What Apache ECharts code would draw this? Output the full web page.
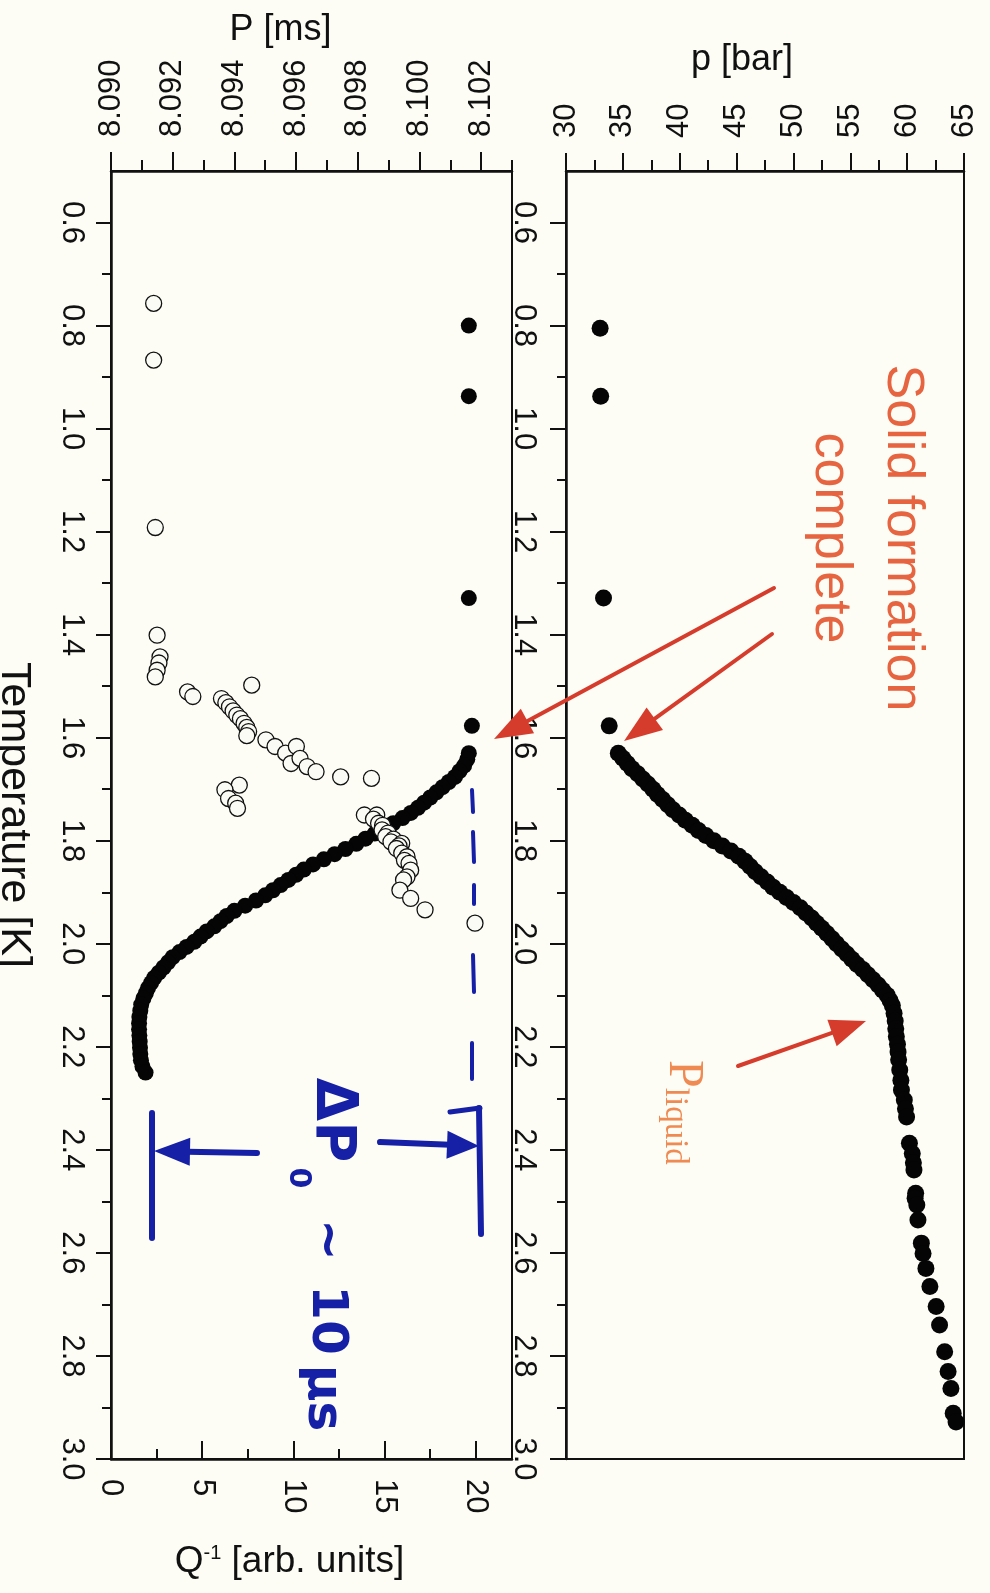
<!DOCTYPE html>
<html><head><meta charset="utf-8">
<script src="https://cdn.jsdelivr.net/npm/echarts@6/dist/echarts.min.js"></script>
<style>html,body{margin:0;padding:0;background:#fdfdf6;}#c{width:990px;height:1593px;}</style>
</head><body><div id="c"></div>
<script>
// ---- tick values ----
const tempMajor = [0.6,0.8,1.0,1.2,1.4,1.6,1.8,2.0,2.2,2.4,2.6,2.8,3.0];
const tempMinor = [0.7,0.9,1.1,1.3,1.5,1.7,1.9,2.1,2.3,2.5,2.7,2.9];
const periodMajor = [8.090,8.092,8.094,8.096,8.098,8.100,8.102];
const periodMinor = [8.091,8.093,8.095,8.097,8.099,8.101,8.103];
const qMajor = [0,5,10,15,20];
const qMinor = [2.5,7.5,12.5,17.5];
const pressMajor = [30,35,40,45,50,55,60,65];
const pressMinor = [32.5,37.5,42.5,47.5,52.5,57.5,62.5];

// ---- period P [ms] (filled circles, left panel) ----
const periodT = [0.800,0.937,1.329,1.577,1.630,1.642,1.654,1.665,1.676,1.686,
 1.696,1.706,1.716,1.726,1.736,1.746,1.756,1.766,1.776,1.786,
 1.796,1.806,1.816,1.826,1.836,1.846,1.856,1.866,1.876,1.886,
 1.896,1.906,1.916,1.926,1.936,1.946,1.956,1.966,1.976,1.986,
 1.996,2.006,2.016,2.026,2.036,2.046,2.056,2.066,2.076,2.086,
 2.096,2.106,2.118,2.130,2.142,2.154,2.166,2.178,2.190,2.202,
 2.214,2.226,2.238,2.250];
const periodP = [8.1016,8.1016,8.1016,8.1017,8.10160,8.10155,8.10145,8.10130,8.10115,8.10095,
 8.10075,8.10055,8.10035,8.10015,8.09995,8.09972,8.09945,8.09915,8.09885,8.09855,
 8.09825,8.09795,8.09760,8.09725,8.09690,8.09655,8.09625,8.09600,8.09575,8.09550,
 8.09525,8.09500,8.09470,8.09435,8.09400,8.09375,8.09355,8.09335,8.09310,8.09290,
 8.09270,8.09245,8.09222,8.09200,8.09185,8.09170,8.09155,8.09140,8.09130,8.09120,
 8.09113,8.09105,8.09098,8.09095,8.09092,8.09091,8.09091,8.09092,8.09093,8.09094,
 8.09095,8.09097,8.09102,8.09112];

// ---- Q^-1 (open circles, left panel) ----
const qT = [0.757,0.867,1.192,1.401,1.443,1.455,1.469,1.482,1.498,1.511,
 1.520,1.524,1.532,1.540,1.548,1.556,1.563,1.572,1.580,1.588,
 1.596,1.604,1.617,1.630,1.617,1.650,1.640,1.656,1.666,1.676,
 1.679,1.692,1.701,1.718,1.727,1.737,1.750,1.750,1.758,1.766,
 1.770,1.779,1.785,1.792,1.797,1.802,1.805,1.810,1.815,1.824,
 1.831,1.838,1.844,1.857,1.870,1.876,1.896,1.912,1.934,1.960];
const qV = [2.34,2.34,2.43,2.53,2.69,2.63,2.53,2.43,7.72,4.20,
 4.49,6.06,6.30,6.50,6.70,6.90,7.10,7.30,7.45,7.55,
 7.45,8.50,9.00,9.58,10.17,9.88,10.37,10.76,11.25,12.60,
 14.29,7.04,6.25,6.45,6.84,6.94,13.90,14.58,14.40,14.68,
 14.90,14.87,15.20,15.07,15.50,15.36,15.95,15.80,15.66,15.95,
 16.24,16.10,16.35,16.44,16.24,16.05,15.85,16.44,17.23,19.97];

// ---- pressure p [bar] (filled circles, right panel) ----
const pressT = [0.805,0.937,1.329,1.577,1.630,1.640,1.650,1.660,1.670,1.680,
 1.690,1.700,1.710,1.720,1.730,1.740,1.750,1.760,1.770,1.780,
 1.790,1.800,1.810,1.820,1.830,1.840,1.850,1.860,1.870,1.880,
 1.890,1.900,1.910,1.920,1.930,1.940,1.950,1.960,1.970,1.980,
 1.990,2.000,2.010,2.020,2.030,2.040,2.050,2.060,2.070,2.080,
 2.090,2.100,2.110,2.120,2.135,2.150,2.165,2.180,2.195,2.210,
 2.225,2.245,2.265,2.284,2.303,2.320,2.336,2.387,2.407,2.425,
 2.439,2.484,2.494,2.507,2.536,2.581,2.601,2.630,2.665,2.704,
 2.740,2.792,2.830,2.863,2.911,2.928];
const pressV = [33.0,33.05,33.3,33.8,34.6,35.0,35.4,35.8,36.3,36.75,
 37.2,37.65,38.05,38.5,38.95,39.4,39.95,40.5,41.1,41.65,
 42.3,43.0,43.75,44.5,45.2,45.75,46.2,46.65,47.15,47.7,
 48.2,48.8,49.4,50.0,50.6,51.1,51.6,52.05,52.5,52.95,
 53.4,53.8,54.25,54.7,55.15,55.6,56.1,56.55,57.0,57.45,
 57.85,58.25,58.5,58.7,58.85,58.95,59.0,59.05,59.15,59.2,
 59.25,59.35,59.45,59.5,59.75,59.85,59.95,60.2,60.45,60.55,
 60.6,60.75,60.7,60.85,60.95,61.25,61.4,61.65,62.0,62.55,
 62.85,63.3,63.6,63.85,64.05,64.3];

// ---- styling ----
const INK = '#111';
const FONT = 'Liberation Sans, Arial, sans-serif';
const axLine = {show:true, onZero:false, lineStyle:{color:INK, width:2.5}};
const tickStyle = {color:INK, width:2};
const RED = '#d63c2c', ORANGE = '#e6643f', BLUE = '#1520a6';
const HAND = 'DejaVu Sans, sans-serif';

function majorX(grid, pos, min, max, ticks, len, inside, margin, fmt, extra) {
  return Object.assign({
    gridIndex:grid, type:'value', position:pos, min:min, max:max,
    axisLine:axLine,
    axisTick:{show:true, customValues:ticks, length:len, inside:inside, lineStyle:tickStyle},
    axisLabel:{show:true, customValues:ticks, rotate:-90, margin:margin, formatter:fmt,
      color:INK, fontSize:31, fontFamily:FONT},
    splitLine:{show:false}
  }, extra || {});
}
function minorAxis(grid, pos, min, max, ticks, len, inside, extra) {
  return Object.assign({
    gridIndex:grid, type:'value', position:pos, min:min, max:max,
    axisLine:{show:false},
    axisTick:{show:true, customValues:ticks, length:len, inside:inside, lineStyle:tickStyle},
    axisLabel:{show:false}, splitLine:{show:false}
  }, extra || {});
}
function tempAxis(grid, margin, tickLen, extra) {
  return Object.assign({
    gridIndex:grid, type:'value', position:'left', inverse:true, min:0.5, max:3.0,
    axisLine:axLine,
    axisTick:{show:true, customValues:tempMajor, length:tickLen, lineStyle:tickStyle},
    axisLabel:{show:true, customValues:tempMajor, rotate:-90, margin:margin, formatter:v=>v.toFixed(1),
      color:INK, fontSize:31, fontFamily:FONT},
    splitLine:{show:false}
  }, extra || {});
}

function arrow(x1,y1,x2,y2,color,lw,hl,hw){
  const dx=x2-x1, dy=y2-y1, L=Math.hypot(dx,dy), ux=dx/L, uy=dy/L;
  const bx=x2-ux*hl, by=y2-uy*hl;
  return [
    {type:'line', shape:{x1:x1,y1:y1,x2:bx+ux*3,y2:by+uy*3}, style:{stroke:color,lineWidth:lw,lineCap:'round'}, z:50},
    {type:'polygon', shape:{points:[[x2,y2],[bx-uy*hw,by+ux*hw],[bx+uy*hw,by-ux*hw]]}, style:{fill:color}, z:50}
  ];
}
function rtext(x,y,text,style){
  return {type:'text', x:x, y:y, rotation:-Math.PI/2, z:60,
    style:Object.assign({text:text, align:'center', verticalAlign:'middle'}, style)};
}
function seg(x1,y1,x2,y2,w){
  return {type:'line', shape:{x1:x1,y1:y1,x2:x2,y2:y2}, style:{stroke:BLUE,lineWidth:w||5,lineCap:'round'}, z:55};
}
const handStyle = (fs)=>({fontSize:fs, fontWeight:'bold', fontFamily:HAND, fill:BLUE});

const graphics = [].concat(
  arrow(774,588,494,739,RED,4,38,14),
  arrow(772,634,624,741,RED,4,38,14),
  arrow(738,1066,866,1021,RED,4,36,14),
  [
    rtext(866,538,'Solid formation\ncomplete',{fontSize:52,fontFamily:FONT,fill:ORANGE,lineHeight:72}),
    {type:'text', x:683, y:1060, rotation:-Math.PI/2, z:60,
      style:{text:'{a|P}{b|liquid}', align:'left', verticalAlign:'middle',
        rich:{a:{fontSize:50,fontFamily:'Liberation Serif, serif',fill:'#ef8a52'},
              b:{fontSize:33,fontFamily:'Liberation Serif, serif',fill:'#ef8a52',verticalAlign:'bottom'}}}},
    // blue hand annotations
    seg(472,790,473,812,4), seg(473,832,474,862,4), seg(474,885,474,904,4),
    seg(473,955,474,992,4), seg(472,1043,472,1079,4),
    seg(450,1112,480,1108,5), seg(479,1108,481,1234,6),
    seg(152,1113,152,1238,6),
    rtext(332,1120,'ΔP',handStyle(56)),
    rtext(298,1178,'0',handStyle(30)),
    rtext(326,1240,'~',handStyle(50)),
    rtext(326,1320,'10',handStyle(50)),
    rtext(322,1398,'μs',handStyle(50))
  ],
  arrow(380,1142,479,1146,BLUE,6,32,14),
  arrow(257,1153,154,1151,BLUE,6,36,14)
);

const chart = echarts.init(document.getElementById('c'), null, {renderer:'canvas'});
chart.setOption({
  animation:false,
  backgroundColor:'#fdfdf6',
  textStyle:{fontFamily:FONT},
  grid:[
    {left:111, top:171, width:401, height:1288, show:true, borderColor:INK, borderWidth:2, backgroundColor:'transparent', containLabel:false, outerBoundsMode:'none'},
    {left:566, top:171, width:398, height:1288, show:true, borderColor:INK, borderWidth:2, backgroundColor:'transparent', containLabel:false, outerBoundsMode:'none'}
  ],
  xAxis:[
    majorX(0,'top',8.090,8.103,periodMajor,19,false,34,v=>v.toFixed(3),{
      name:'P [ms]', nameLocation:'middle', nameGap:123,
      nameTextStyle:{fontSize:36, fontFamily:FONT, color:INK, padding:[0,62,0,0]}}),
    minorAxis(0,'top',8.090,8.103,periodMinor,11,false),
    majorX(0,'bottom',0,22,qMajor,18,true,20,v=>String(v),{
      name:'{q|Q}{s|-1}{q| [arb. units]}', nameLocation:'middle', nameGap:84,
      nameTextStyle:{color:INK, padding:[0,44,0,0], rich:{
        q:{fontSize:37, fontFamily:FONT, color:INK},
        s:{fontSize:20, fontFamily:FONT, color:INK, verticalAlign:'top'}}}}),
    minorAxis(0,'bottom',0,22,qMinor,10,true),
    majorX(1,'top',30,65,pressMajor,18,false,33,v=>String(v),{
      name:'p [bar]', nameLocation:'middle', nameGap:93,
      nameTextStyle:{fontSize:36, fontFamily:FONT, color:INK, padding:[0,46,0,0]}}),
    minorAxis(1,'top',30,65,pressMinor,11,false)
  ],
  yAxis:[
    tempAxis(0,24,15,{name:'Temperature [K]', nameLocation:'middle', nameRotate:-90, nameGap:76,
      nameTextStyle:{fontSize:43, fontFamily:FONT, color:INK}}),
    minorAxis(0,'left',0.5,3.0,tempMinor,9,false,{inverse:true}),
    tempAxis(1,27,16),
    minorAxis(1,'left',0.5,3.0,tempMinor,9,false,{inverse:true})
  ],
  series:[
    {name:'P', type:'scatter', xAxisIndex:0, yAxisIndex:0, symbol:'circle', symbolSize:16,
      itemStyle:{color:'#050505', opacity:1}, z:2,
      data:periodT.map((t,i)=>[periodP[i], t])},
    {name:'Q-1', type:'scatter', xAxisIndex:2, yAxisIndex:0, symbol:'circle', symbolSize:16,
      itemStyle:{color:'#fbfbf5', borderColor:INK, borderWidth:1.3, opacity:1}, z:3,
      data:qT.map((t,i)=>[qV[i], t])},
    {name:'p', type:'scatter', xAxisIndex:4, yAxisIndex:2, symbol:'circle', symbolSize:17,
      itemStyle:{color:'#050505', opacity:1}, z:2,
      data:pressT.map((t,i)=>[pressV[i], t])}
  ],
  graphic:{elements:graphics}
});
</script>
</body></html>
